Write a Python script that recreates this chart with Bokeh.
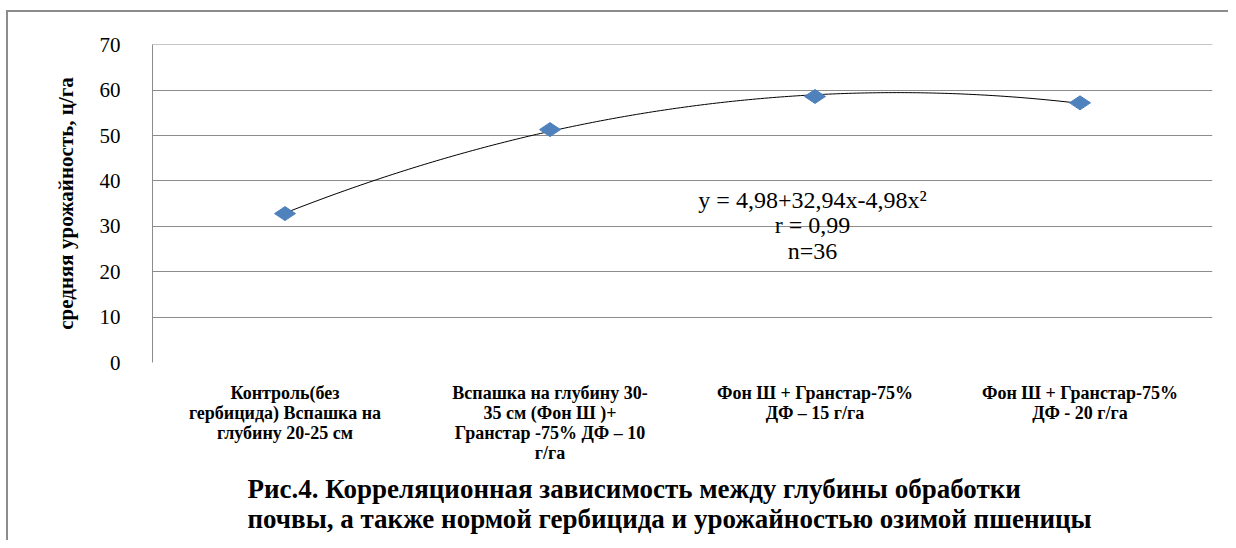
import numpy as np
from bokeh.plotting import figure
from bokeh.models import Range1d, FixedTicker, Label, Title
from bokeh.embed import file_html
from bokeh.resources import INLINE

# ---- data ----
categories = [
    "Контроль(без\nгербицида) Вспашка на\nглубину 20-25 см",
    "Вспашка на глубину 30-\n35 см (Фон Ш )+\nГранстар -75% ДФ – 10\nг/га",
    "Фон Ш + Гранстар-75%\nДФ – 15 г/га",
    "Фон Ш + Гранстар-75%\nДФ - 20 г/га",
]
x_pos = [1, 2, 3, 4]
yield_vals = [32.8, 51.3, 58.6, 57.2]
y_ticks = [0, 10, 20, 30, 40, 50, 60, 70]
equation_lines = ["y = 4,98+32,94x-4,98x²", "r = 0,99", "n=36"]
y_title = "средняя урожайность, ц/га"
caption_lines = [
    "Рис.4. Корреляционная зависимость между глубины обработки",
    "почвы, а также нормой гербицида и урожайностью озимой пшеницы",
]

SERIF = "Liberation Serif"

p = figure(width=1228, height=540, output_backend="svg", toolbar_location=None,
           x_range=Range1d(0.5, 4.5), y_range=Range1d(0, 70.05),
           min_border_left=152, min_border_right=16, min_border_top=44,
           min_border_bottom=178)
# outer chart border (left + top) painted behind a transparent canvas border
p.styles = {"background": "linear-gradient(#8c8c8c, #8c8c8c) 6px 10px / 2px 700px no-repeat, "
                          "linear-gradient(#8c8c8c, #8c8c8c) 6px 10px / 1400px 2px no-repeat, white"}
p.outline_line_color = None
p.background_fill_color = "white"
p.border_fill_alpha = 0

coef = np.polyfit(x_pos, yield_vals, 2)
xs = np.linspace(1, 4, 200)
p.line(xs, np.polyval(coef, xs), line_color="black", line_width=1)

p.scatter(x_pos, yield_vals, marker="diamond", size=21, angle=np.pi / 2,
          fill_color="#4F81BD", line_color="#4F81BD")

xa = p.xaxis[0]
xa.ticker = FixedTicker(ticks=x_pos)
xa.major_label_overrides = {k: v for k, v in zip(x_pos, categories)}
xa.axis_line_color = None
xa.major_tick_line_color = None
xa.minor_tick_line_color = None
xa.major_label_text_font = SERIF
xa.major_label_text_font_style = "bold"
xa.major_label_text_font_size = "18px"
xa.major_label_text_color = "black"
xa.major_label_text_line_height = 1.0
xa.major_label_standoff = 14

ya = p.yaxis[0]
ya.ticker = FixedTicker(ticks=y_ticks)
ya.axis_line_color = "#8c8c8c"
ya.major_tick_line_color = None
ya.minor_tick_line_color = None
ya.major_label_text_font = SERIF
ya.major_label_text_font_size = "21px"
ya.major_label_text_color = "black"
ya.major_label_standoff = 26
ya.axis_label = y_title
ya.axis_label_text_font = SERIF
ya.axis_label_text_font_style = "bold"
ya.axis_label_text_font_size = "21px"
ya.axis_label_text_color = "black"
ya.axis_label_standoff = 19

p.xgrid.grid_line_color = None
p.ygrid.grid_line_color = "#8c8c8c"

for i, t in enumerate(equation_lines):
    p.add_layout(Label(x=660, y=163 - i * 25.5, x_units="screen", y_units="screen",
                       text=t, text_align="center", text_baseline="middle",
                       text_font=SERIF, text_font_size="24px", text_color="black"))

p.add_layout(Title(text="\n".join(caption_lines), align="left", offset=95,
                   text_font=SERIF, text_font_style="bold", text_font_size="27px",
                   text_line_height=1.0, text_color="black", standoff=13), "below")

open("out.html", "w").write(file_html(p, INLINE))
